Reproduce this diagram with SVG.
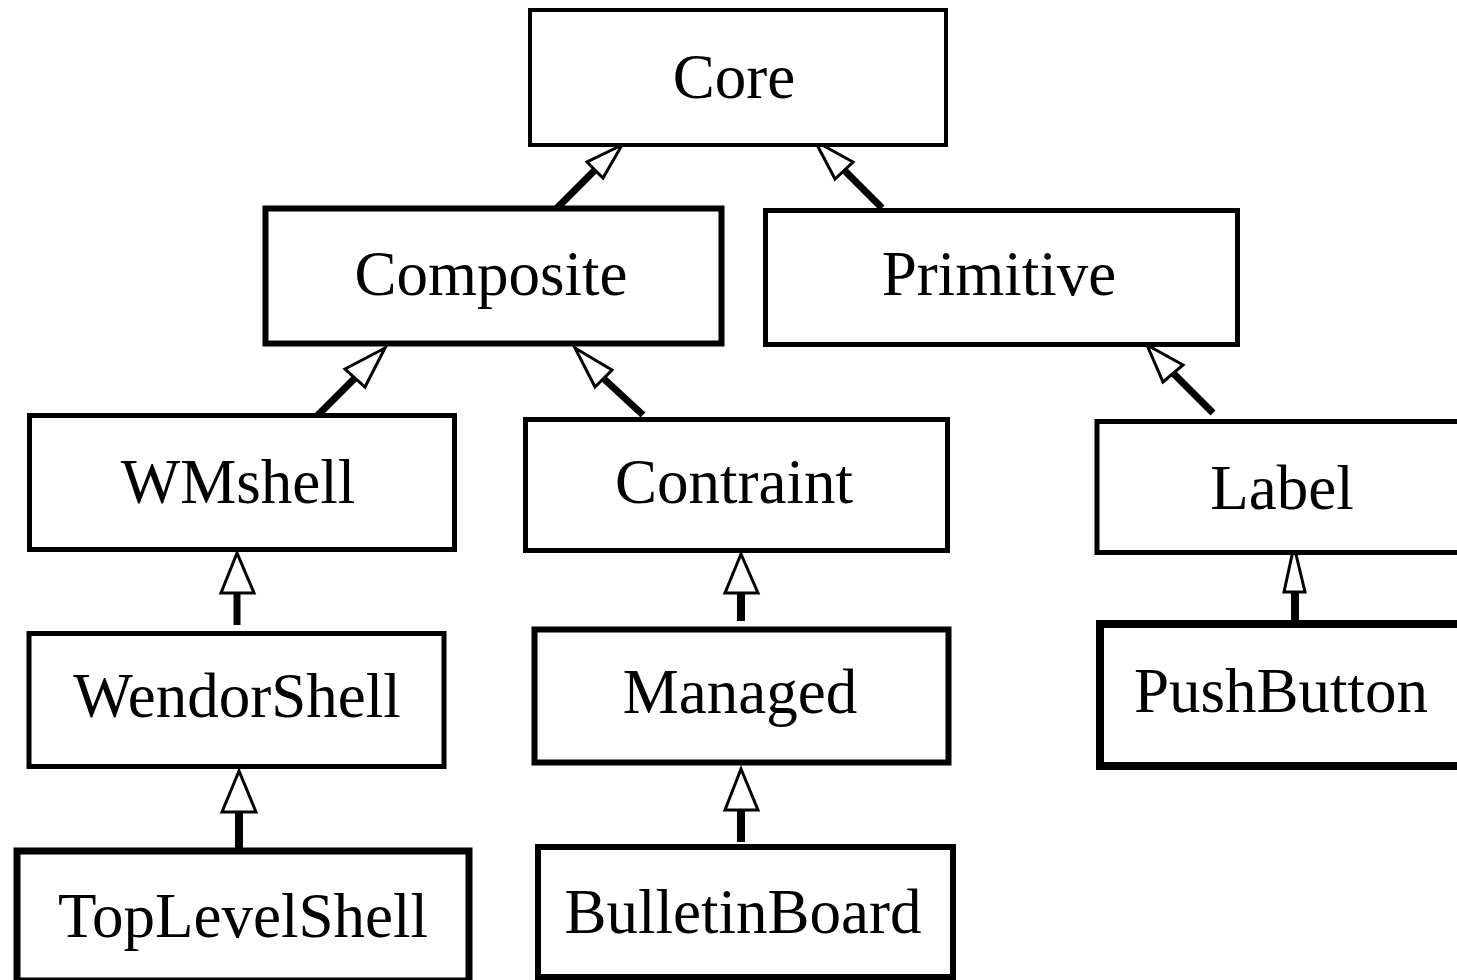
<svg xmlns="http://www.w3.org/2000/svg" width="1457" height="980" viewBox="0 0 1457 980">
<style>
.box{fill:#fff;stroke:#000}
.lbl{font-family:"Liberation Serif","Times New Roman",serif;font-size:63px;fill:#000;text-anchor:middle}
.ln{stroke:#000;stroke-width:7;fill:none}
.ah{fill:#fff;stroke:#000;stroke-width:3;stroke-linejoin:miter}
</style>
<rect width="1457" height="980" fill="#fff"/>
<g id="connectors">
<line class="ln" x1="557" y1="208" x2="595" y2="170"/>
<polygon class="ah" points="622,145 587,162 603,178"/>
<line class="ln" x1="882" y1="208" x2="844" y2="170"/>
<polygon class="ah" points="815,141 853,162 835,179"/>
<line class="ln" x1="315" y1="418" x2="355" y2="378"/>
<polygon class="ah" points="385,348 345,369 365,387"/>
<line class="ln" x1="643" y1="415" x2="603" y2="378"/>
<polygon class="ah" points="575,348 612,370 595,387"/>
<line class="ln" x1="1213" y1="413" x2="1173" y2="373"/>
<polygon class="ah" points="1147,345 1183,365 1163,382"/>
<line class="ln" x1="237" y1="625" x2="237" y2="593" stroke-width="8"/>
<polygon class="ah" points="237,553 221,593 254,593"/>
<line class="ln" x1="741" y1="621" x2="741" y2="593" style="stroke-width:8"/>
<polygon class="ah" points="741,554 725,593 758,593"/>
<line class="ln" x1="1295" y1="625" x2="1295" y2="592" style="stroke-width:8"/>
<polygon class="ah" points="1294,546 1284,592 1305,592"/>
<line class="ln" x1="239" y1="848" x2="239" y2="812" style="stroke-width:8"/>
<polygon class="ah" points="239,771 222,812 256,812"/>
<line class="ln" x1="741" y1="842" x2="741" y2="810" style="stroke-width:8"/>
<polygon class="ah" points="741,769 725,810 758,810"/>
</g>
<g id="core"><rect class="box" x="530" y="10" width="416" height="135" stroke-width="4"/><text class="lbl" x="734" y="98">Core</text></g>
<g id="composite"><rect class="box" x="265.5" y="208.5" width="456" height="135" stroke-width="6"/><text class="lbl" x="491" y="295">Composite</text></g>
<g id="primitive"><rect class="box" x="765.5" y="210.5" width="472" height="134" stroke-width="5"/><text class="lbl" x="999" y="295">Primitive</text></g>
<g id="wmshell"><rect class="box" x="29.5" y="415.5" width="425" height="134" stroke-width="5"/><text class="lbl" x="238" y="503">WMshell</text></g>
<g id="contraint"><rect class="box" x="525.5" y="419.5" width="422" height="131" stroke-width="5"/><text class="lbl" x="734" y="503">Contraint</text></g>
<g id="label"><rect class="box" x="1097" y="421.5" width="380" height="131" stroke-width="5"/><text class="lbl" x="1282" y="509">Label</text></g>
<g id="wendorshell"><rect class="box" x="29" y="633.5" width="415" height="133" stroke-width="5"/><text class="lbl" x="237" y="717">WendorShell</text></g>
<g id="managed"><rect class="box" x="534.5" y="629.5" width="414" height="133" stroke-width="6"/><text class="lbl" x="740" y="713">Managed</text></g>
<g id="pushbutton"><rect class="box" x="1100" y="624" width="380" height="142" stroke-width="8"/><text class="lbl" x="1281" y="712">PushButton</text></g>
<g id="toplevelshell"><rect class="box" x="17" y="851" width="452" height="130" stroke-width="7"/><text class="lbl" x="243" y="937">TopLevelShell</text></g>
<g id="bulletinboard"><rect class="box" x="538" y="847" width="415" height="130" stroke-width="6"/><text class="lbl" x="743" y="933">BulletinBoard</text></g>
</svg>
